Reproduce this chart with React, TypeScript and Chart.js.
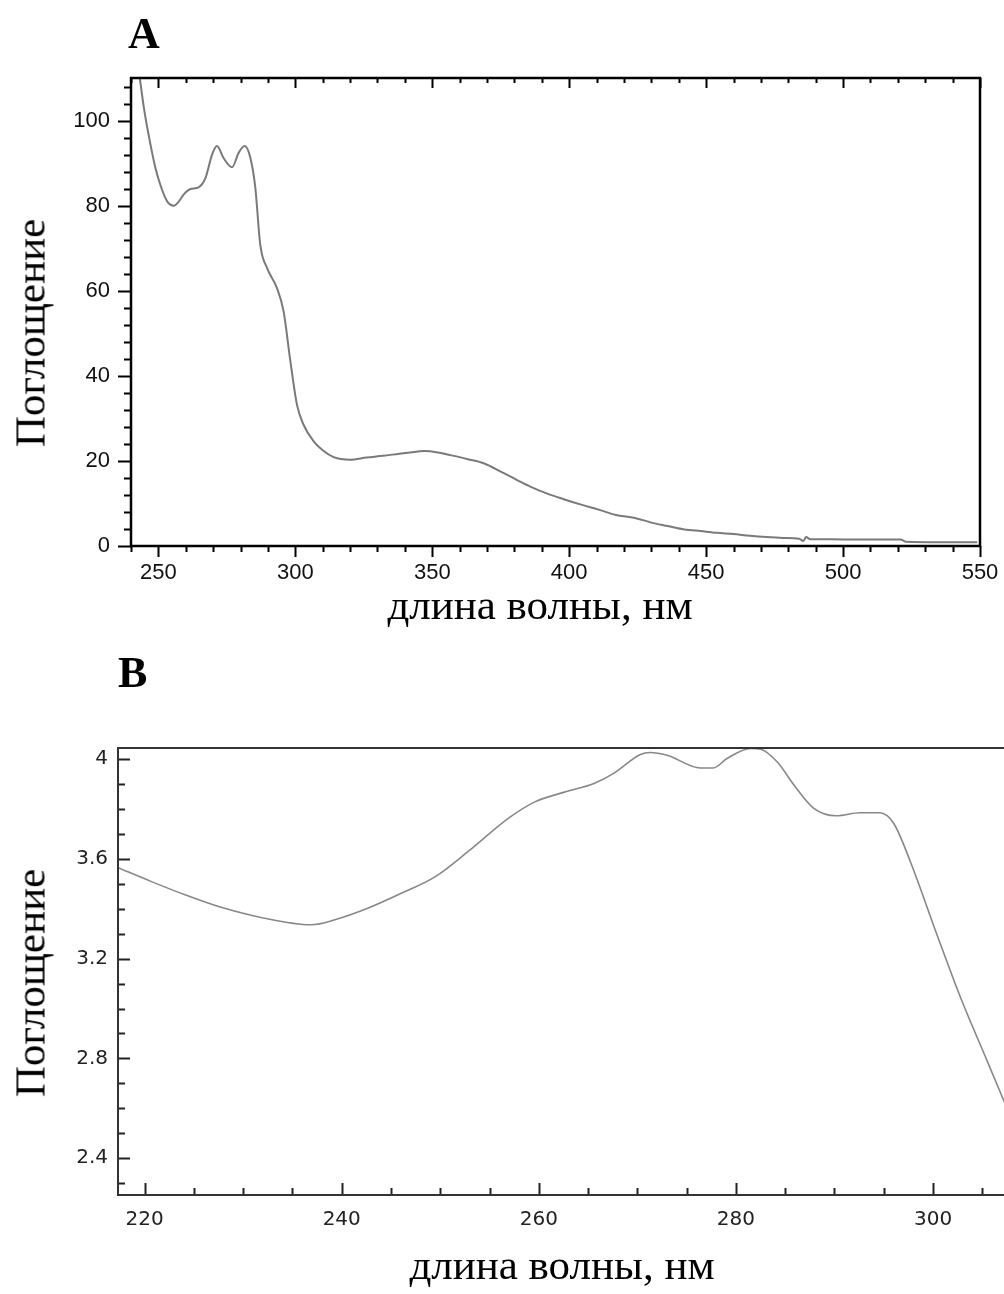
import React, { useEffect, useRef } from "react";
import { Chart, registerables } from "chart.js";

Chart.register(...registerables);

// ---------- Panel A data ----------
const specA_wavelength = [
  243.2, 244.9, 247.1, 248.9, 250.7, 253.2, 255.6, 257.5, 259.2, 261.7, 264.7, 267.2,
  269.6, 271.4, 273.8, 276.9, 279.3, 281.5, 283.6, 285.4, 287.2, 289.7, 293.3, 295.7,
  298.2, 300.6, 303.0, 306.7, 310, 314, 320, 326, 332, 338, 342, 347, 352, 357, 363,
  369, 375, 381, 386, 392, 398, 405, 411, 417, 424, 430, 436, 442, 448, 454, 460, 466,
  472, 478, 484, 485.5, 486.5, 488, 496, 505, 515, 521, 523, 535, 549,
];
const specA_absorbance = [
  110, 102.2, 94.4, 88.9, 84.9, 81.0, 80.0, 81.0, 82.6, 83.9, 84.3, 86.5,
  92.0, 94.0, 91.2, 89.0, 92.4, 94.0, 91.2, 84.2, 70.8, 65.3, 60.6, 55.2,
  43.4, 33.2, 28.5, 24.6, 22.5, 20.9, 20.3, 20.8, 21.2, 21.7, 22.0, 22.3, 22.0, 21.3, 20.4,
  19.4, 17.5, 15.5, 13.9, 12.3, 11.0, 9.6, 8.5, 7.3, 6.6, 5.5, 4.7, 3.9, 3.5, 3.1, 2.8, 2.4,
  2.1, 1.9, 1.7, 1.2, 2.1, 1.6, 1.6, 1.5, 1.5, 1.5, 1.0, 0.9, 0.9,
];
const specA_xTicks = [250, 300, 350, 400, 450, 500, 550];
const specA_yTicks = [0, 20, 40, 60, 80, 100];

// ---------- Panel B data ----------
const specB_wavelength = [
  217.3, 220.7, 224.1, 227.5, 230.9, 234.2, 236.9, 239.3, 242.7, 246.1, 249.5, 252.8,
  256.9, 259.6, 262.6, 265.6, 267.6, 270.3, 271.3, 273.0, 276.4, 277.7, 279.1, 281.5,
  282.5, 284.2, 285.9, 287.9, 290.2, 292.6, 294.6, 296.0, 297.7, 300.4, 302.8, 305.5, 307.5,
];
const specB_absorbance = [
  3.565, 3.509, 3.456, 3.409, 3.373, 3.347, 3.336, 3.356, 3.403, 3.463, 3.529, 3.629,
  3.763, 3.829, 3.868, 3.903, 3.943, 4.019, 4.027, 4.016, 3.965, 3.965, 4.003, 4.043,
  4.04, 3.989, 3.896, 3.803, 3.773, 3.785, 3.785, 3.743, 3.589, 3.296, 3.043, 2.789, 2.6,
];
const specB_xTicks = [220, 240, 260, 280, 300];
const specB_yTicks = [2.4, 2.8, 3.2, 3.6, 4];

const panelLabels = ["A", "B"];
const yTitle = "Поглощение";
const xTitle = "длина волны, нм";

const SERIF = '"Liberation Serif", "Times New Roman", serif';

function near(v: number, step: number) {
  const r = v / step;
  return Math.abs(r - Math.round(r)) < 1e-6;
}

const frameA = {
  id: "frameA",
  afterDraw(chart: any) {
    const { ctx, chartArea: a, scales } = chart;
    const xs = scales.x;
    const ys = scales.y;
    ctx.save();
    ctx.strokeStyle = "#000";
    ctx.lineWidth = 2;
    for (let v = 240; v <= 550.001; v += 10) {
      const px = Math.round(xs.getPixelForValue(v)) + 0.5;
      const major = near(v, 50);
      ctx.beginPath();
      ctx.moveTo(px, a.bottom);
      ctx.lineTo(px, a.bottom + (major ? 11 : 6));
      ctx.moveTo(px, a.top);
      ctx.lineTo(px, a.top + (major ? 10 : 5));
      ctx.stroke();
    }
    for (let v = 0; v <= 110.001; v += 4) {
      const py = Math.round(ys.getPixelForValue(v)) + 0.5;
      const major = near(v, 20);
      ctx.beginPath();
      ctx.moveTo(a.left, py);
      ctx.lineTo(a.left - (major ? 13 : 7), py);
      ctx.stroke();
    }
    ctx.lineWidth = 2.5;
    ctx.strokeRect(a.left, a.top, a.right - a.left, a.bottom - a.top);
    ctx.restore();
  },
};

const frameB = {
  id: "frameB",
  afterDraw(chart: any) {
    const { ctx, chartArea: a, scales } = chart;
    const xs = scales.x;
    const ys = scales.y;
    ctx.save();
    ctx.strokeStyle = "#222";
    ctx.lineWidth = 2;
    for (let v = 220; v <= 307.001; v += 5) {
      const px = Math.round(xs.getPixelForValue(v)) + 0.5;
      const major = near(v, 20);
      ctx.beginPath();
      ctx.moveTo(px, a.bottom);
      ctx.lineTo(px, a.bottom - (major ? 12 : 7));
      ctx.stroke();
    }
    for (let k = 23; k <= 40; k++) {
      const v = k / 10;
      const py = Math.round(ys.getPixelForValue(v)) + 0.5;
      const major = k % 4 === 0;
      ctx.beginPath();
      ctx.moveTo(a.left, py);
      ctx.lineTo(a.left + (major ? 12 : 7), py);
      ctx.stroke();
    }
    ctx.strokeStyle = "#333";
    ctx.lineWidth = 2;
    ctx.beginPath();
    ctx.moveTo(a.right + 2, a.top);
    ctx.lineTo(a.left, a.top);
    ctx.lineTo(a.left, a.bottom);
    ctx.lineTo(a.right + 2, a.bottom);
    ctx.stroke();
    ctx.restore();
  },
};

function makeConfig(opts: any) {
  return {
    type: "line",
    data: {
      datasets: [
        {
          data: opts.xs.map((x: number, i: number) => ({ x, y: opts.ys[i] })),
          borderColor: opts.lineColor,
          borderWidth: opts.lineWidth,
          pointRadius: 0,
          fill: false,
          cubicInterpolationMode: "monotone",
        },
      ],
    },
    options: {
      responsive: false,
      animation: false,
      devicePixelRatio: 1,
      layout: { padding: opts.padding },
      plugins: { legend: { display: false }, tooltip: { enabled: false }, title: { display: false } },
      scales: {
        x: {
          type: "linear",
          min: opts.xMin,
          max: opts.xMax,
          grid: { display: false, drawTicks: false },
          border: { display: false },
          afterBuildTicks: (s: any) => {
            s.ticks = opts.xTicks.map((v: number) => ({ value: v }));
          },
          afterFit: (s: any) => {
            s.height = opts.xHeight;
            s.paddingLeft = 0;
            s.paddingRight = 0;
          },
          ticks: {
            autoSkip: false,
            maxRotation: 0,
            padding: opts.xPad,
            color: opts.tickColor,
            font: { family: opts.tickFont, size: opts.tickSize },
            callback: (v: any) => String(Math.round(Number(v) * 10) / 10),
          },
        },
        y: {
          type: "linear",
          min: opts.yMin,
          max: opts.yMax,
          grid: { display: false, drawTicks: false },
          border: { display: false },
          afterBuildTicks: (s: any) => {
            s.ticks = opts.yTicks.map((v: number) => ({ value: v }));
          },
          afterFit: (s: any) => {
            s.width = opts.yWidth;
            s.paddingTop = 0;
            s.paddingBottom = 0;
          },
          ticks: {
            autoSkip: false,
            padding: opts.yPad,
            color: opts.tickColor,
            font: { family: opts.tickFont, size: opts.tickSize },
            callback: (v: any) => String(Math.round(Number(v) * 10) / 10),
          },
        },
      },
    },
    plugins: [opts.frame],
  } as any;
}

export default function App() {
  const refA = useRef<HTMLCanvasElement | null>(null);
  const refB = useRef<HTMLCanvasElement | null>(null);

  useEffect(() => {
    const chartA = new Chart(
      refA.current as HTMLCanvasElement,
      makeConfig({
        xs: specA_wavelength,
        ys: specA_absorbance,
        lineColor: "#7a7a7a",
        lineWidth: 2,
        padding: { left: 0, right: 24, top: 78, bottom: 0 },
        xMin: 240,
        xMax: 550,
        yMin: 0,
        yMax: 110,
        xTicks: specA_xTicks,
        yTicks: specA_yTicks,
        xHeight: 104,
        yWidth: 131,
        xPad: 14,
        yPad: 21,
        tickColor: "#111",
        tickFont: '"Liberation Sans", Arial, sans-serif',
        tickSize: 22,
        frame: frameA,
      })
    );
    const chartB = new Chart(
      refB.current as HTMLCanvasElement,
      makeConfig({
        xs: specB_wavelength,
        ys: specB_absorbance,
        lineColor: "#888",
        lineWidth: 1.6,
        padding: { left: 0, right: 0, top: 98, bottom: 0 },
        xMin: 217.3,
        xMax: 307.2,
        yMin: 2.252,
        yMax: 4.045,
        xTicks: specB_xTicks,
        yTicks: specB_yTicks,
        xHeight: 99,
        yWidth: 118,
        xPad: 13,
        yPad: 10,
        tickColor: "#222",
        tickFont: '"DejaVu Sans", sans-serif',
        tickSize: 20,
        frame: frameB,
      })
    );
    return () => {
      chartA.destroy();
      chartB.destroy();
    };
  }, []);

  const label = (text: string, left: number, top: number) => (
    <div
      style={{
        position: "absolute",
        left,
        top,
        fontFamily: SERIF,
        fontWeight: "bold",
        fontSize: 44,
        lineHeight: 1,
        color: "#000",
      }}
    >
      {text}
    </div>
  );

  const xTitleEl = (cx: number, top: number) => (
    <div
      style={{
        position: "absolute",
        left: cx,
        top,
        transform: "translateX(-50%)",
        whiteSpace: "nowrap",
        fontFamily: SERIF,
        fontSize: 43,
        lineHeight: 1,
        color: "#000",
      }}
    >
      {xTitle}
    </div>
  );

  const yTitleEl = (cx: number, cy: number) => (
    <div
      style={{
        position: "absolute",
        left: cx,
        top: cy,
        transform: "translate(-50%, -50%) rotate(-90deg)",
        whiteSpace: "nowrap",
        fontFamily: SERIF,
        fontSize: 43,
        lineHeight: 1,
        color: "#000",
      }}
    >
      {yTitle}
    </div>
  );

  return (
    <div
      style={{
        position: "absolute",
        left: 0,
        top: 0,
        width: 1004,
        height: 1294,
        overflow: "hidden",
        background: "#fff",
      }}
    >
      <canvas
        ref={refA}
        width={1004}
        height={650}
        style={{ position: "absolute", left: 0, top: 0, width: 1004, height: 650 }}
      />
      <canvas
        ref={refB}
        width={1004}
        height={644}
        style={{ position: "absolute", left: 0, top: 650, width: 1004, height: 644 }}
      />
      {label(panelLabels[0], 128, 12)}
      {label(panelLabels[1], 118, 651)}
      {yTitleEl(30, 333)}
      {xTitleEl(540, 583)}
      {yTitleEl(30, 983)}
      {xTitleEl(562, 1243)}
    </div>
  );
}
